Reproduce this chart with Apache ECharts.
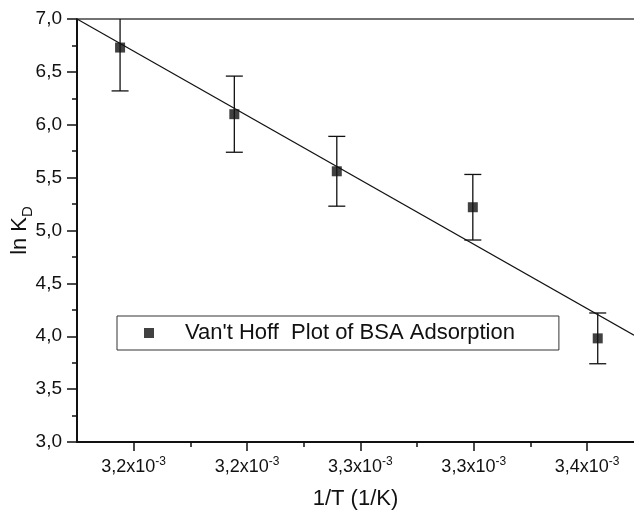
<!DOCTYPE html>
<html>
<head>
<meta charset="utf-8">
<script src="https://cdn.jsdelivr.net/npm/echarts@6/dist/echarts.min.js"></script>
<style>
html,body{margin:0;padding:0;background:#fff;}
#chart{width:634px;height:518px;}
</style>
</head>
<body>
<div id="chart"></div>
<script>
// ---- data ----
var xVals = [3.1940e-3, 3.2444e-3, 3.2896e-3, 3.3496e-3, 3.4047e-3];
var lnKd = [6.73, 6.10, 5.56, 5.22, 3.98];
var lnKdErr = [0.41, 0.36, 0.33, 0.31, 0.24];
var fitX = [3.175e-3, 3.4207e-3];
var fitY = [7.0, 4.01];
var xMajorTicks = [3.20e-3, 3.25e-3, 3.30e-3, 3.35e-3, 3.40e-3];
var xMajorLabels = ['3,2', '3,2', '3,3', '3,3', '3,4'];
var xMinorTicks = [3.225e-3, 3.275e-3, 3.325e-3, 3.375e-3];
var xMin = 3.175e-3, xMax = 3.4207e-3;
var seriesName = "Van't Hoff  Plot of BSA Adsorption";

var FONT = 'Liberation Sans, Arial, Helvetica, sans-serif';
var INK = '#111';

var chart = echarts.init(document.getElementById('chart'), null, {renderer: 'canvas'});

var scatterData = xVals.map(function (x, i) { return [x, lnKd[i]]; });
var errData = xVals.map(function (x, i) { return [x, lnKd[i], lnKdErr[i]]; });
var fitData = fitX.map(function (x, i) { return [x, fitY[i]]; });

function xLabel(v) {
  var best = 0, d = Infinity;
  for (var i = 0; i < xMajorTicks.length; i++) {
    var dd = Math.abs(xMajorTicks[i] - v);
    if (dd < d) { d = dd; best = i; }
  }
  return '{m|' + xMajorLabels[best] + 'x10}{s|-3}';
}

var option = {
  animation: false,
  backgroundColor: '#fff',
  textStyle: {fontFamily: FONT},
  grid: {left: 77, top: 19, right: 0, bottom: 76, containLabel: false, outerBoundsMode: 'none'},
  legend: {
    left: 117, top: 316,
    orient: 'horizontal',
    data: [{name: seriesName, icon: 'rect'}],
    itemWidth: 10, itemHeight: 10,
    borderColor: '#333', borderWidth: 1, borderRadius: 0,
    padding: [5, 44, 5, 27],
    selectedMode: false,
    textStyle: {fontFamily: FONT, fontSize: 22, color: INK, lineHeight: 24, padding: [0, 0, 0, 26]}
  },
  xAxis: [
    {
      type: 'value', min: xMin, max: xMax, position: 'bottom',
      name: '1/T (1/K)', nameLocation: 'middle', nameGap: 46, nameMoveOverlap: false,
      nameTextStyle: {fontFamily: FONT, fontSize: 22, color: INK},
      axisLine: {show: true, onZero: false, lineStyle: {color: INK, width: 2}},
      axisTick: {show: true, customValues: xMajorTicks, length: 9, lineStyle: {color: INK, width: 1.5}},
      axisLabel: {
        show: true, customValues: xMajorTicks, margin: 14,
        formatter: function (v) { return xLabel(v); },
        rich: {
          m: {fontFamily: FONT, fontSize: 18, color: INK, lineHeight: 22},
          s: {fontFamily: FONT, fontSize: 12, color: INK, verticalAlign: 'top', lineHeight: 12}
        }
      },
      splitLine: {show: false}
    },
    {
      type: 'value', min: xMin, max: xMax, position: 'bottom',
      axisLine: {show: false, onZero: false},
      axisTick: {show: true, customValues: xMinorTicks, length: 5, lineStyle: {color: INK, width: 1.5}},
      axisLabel: {show: false},
      splitLine: {show: false}
    },
    {
      type: 'value', min: xMin, max: xMax, position: 'top',
      axisLine: {show: true, onZero: false, lineStyle: {color: '#444', width: 1.5}},
      axisTick: {show: false},
      axisLabel: {show: false},
      splitLine: {show: false}
    }
  ],
  yAxis: {
    type: 'value', min: 3, max: 7, interval: 0.5,
    name: '{a|ln K}{b|D}', nameLocation: 'middle', nameGap: 42, nameMoveOverlap: false,
    nameTextStyle: {
      fontFamily: FONT, color: INK,
      rich: {
        a: {fontFamily: FONT, fontSize: 22, color: INK, lineHeight: 30},
        b: {fontFamily: FONT, fontSize: 15, color: INK, verticalAlign: 'bottom', lineHeight: 16}
      }
    },
    axisLine: {show: true, onZero: false, lineStyle: {color: INK, width: 2}},
    axisTick: {show: true, length: 10, lineStyle: {color: INK, width: 1.5}},
    minorTick: {show: true, splitNumber: 2, length: 5, lineStyle: {color: INK, width: 1.5}},
    axisLabel: {
      margin: 15, fontFamily: FONT, fontSize: 19, color: INK,
      formatter: function (v) { return v.toFixed(1).replace('.', ','); }
    },
    splitLine: {show: false}
  },
  series: [
    {
      type: 'line', name: 'fit', data: fitData, xAxisIndex: 0,
      showSymbol: false, symbol: 'none', silent: true,
      lineStyle: {color: INK, width: 1.2}, clip: true, z: 2
    },
    {
      type: 'custom', name: 'err', data: errData, xAxisIndex: 0, clip: true, z: 3,
      renderItem: function (params, api) {
        var x = api.value(0), y = api.value(1), e = api.value(2);
        var top = api.coord([x, y + e]);
        var bot = api.coord([x, y - e]);
        var hw = 8.5;
        var style = {stroke: INK, lineWidth: 1.3};
        return {
          type: 'group',
          children: [
            {type: 'line', shape: {x1: top[0], y1: top[1], x2: bot[0], y2: bot[1]}, style: style},
            {type: 'line', shape: {x1: top[0] - hw, y1: top[1], x2: top[0] + hw, y2: top[1]}, style: style},
            {type: 'line', shape: {x1: bot[0] - hw, y1: bot[1], x2: bot[0] + hw, y2: bot[1]}, style: style}
          ]
        };
      }
    },
    {
      type: 'scatter', name: seriesName, data: scatterData, xAxisIndex: 0,
      symbol: 'rect', symbolSize: 10,
      itemStyle: {color: INK}, z: 4
    }
  ]
};
chart.setOption(option);
</script>
</body>
</html>
